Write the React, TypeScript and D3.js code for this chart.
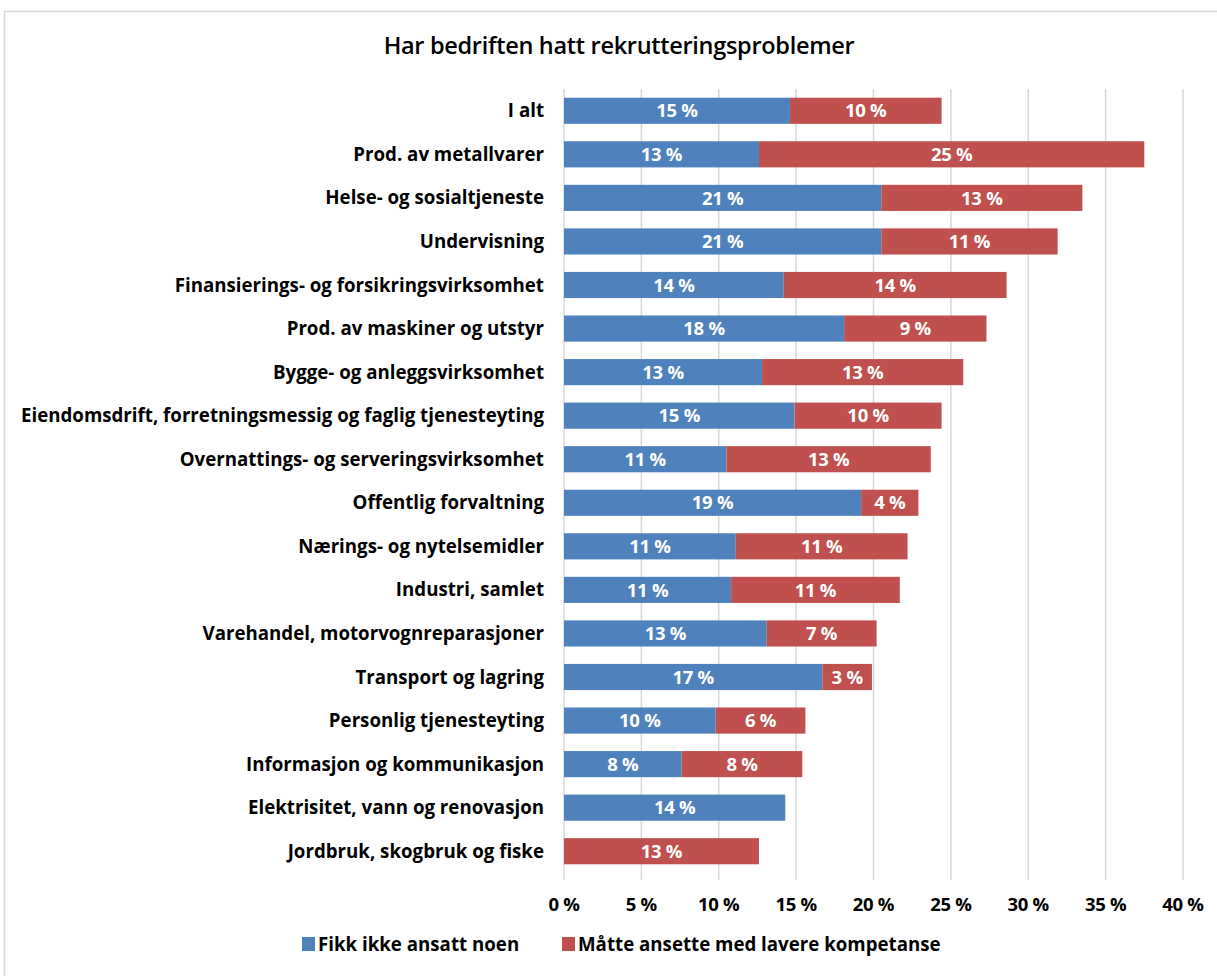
import React from "react";
import * as d3 from "d3";

const categories = [
  "I alt",
  "Prod. av metallvarer",
  "Helse- og sosialtjeneste",
  "Undervisning",
  "Finansierings- og forsikringsvirksomhet",
  "Prod. av maskiner og utstyr",
  "Bygge- og anleggsvirksomhet",
  "Eiendomsdrift, forretningsmessig og faglig tjenesteyting",
  "Overnattings- og serveringsvirksomhet",
  "Offentlig forvaltning",
  "Nærings- og nytelsemidler",
  "Industri, samlet",
  "Varehandel, motorvognreparasjoner",
  "Transport og lagring",
  "Personlig tjenesteyting",
  "Informasjon og kommunikasjon",
  "Elektrisitet, vann og renovasjon",
  "Jordbruk, skogbruk og fiske",
];

const fikkIkke = [14.6, 12.6, 20.5, 20.5, 14.2, 18.1, 12.8, 14.9, 10.5, 19.2, 11.1, 10.8, 13.1, 16.7, 9.8, 7.6, 14.3, 0];
const lavereKomp = [9.8, 24.9, 13.0, 11.4, 14.4, 9.2, 13.0, 9.5, 13.2, 3.7, 11.1, 10.9, 7.1, 3.2, 5.8, 7.8, 0, 12.6];

const ticks = [0, 5, 10, 15, 20, 25, 30, 35, 40];
const seriesNames = ["Fikk ikke ansatt noen", "Måtte ansette med lavere kompetanse"];
const colors = ["#4F81BD", "#C0504D"];

const W = 1217;
const H = 976;
const FONT = "Open Sans, Noto Sans, sans-serif";
const FS = 18.5;
const FSL = 18.7;

export default function App() {
  const x = d3.scaleLinear().domain([0, 40]).range([564, 1183]);
  const y = d3.scaleBand<string>().domain(categories).range([89, 873]).paddingInner(0.4).paddingOuter(0.2);
  const bh = y.bandwidth();

  return (
    <svg width={W} height={H} style={{ position: "absolute", left: 0, top: 0, background: "#fff" }}>
      <rect x={4.5} y={11.5} width={W - 2} height={H} fill="#fff" stroke="#d9d9d9" strokeWidth={1.5} />
      <text x={619} y={54} textAnchor="middle" fontFamily={FONT} fontWeight={600} fontSize={23.5} letterSpacing={-0.3} fill="#000">
        Har bedriften hatt rekrutteringsproblemer
      </text>
      {ticks.map((t) => (
        <line key={t} x1={x(t)} x2={x(t)} y1={89} y2={880} stroke="#d9d9d9" strokeWidth={1.5} />
      ))}
      {categories.map((c, i) => {
        const y0 = y(c)!;
        const a = fikkIkke[i];
        const b = lavereKomp[i];
        return (
          <g key={c}>
            <text x={544} y={y0 + bh / 2} dy="0.35em" textAnchor="end" fontFamily={FONT} fontWeight={700} fontSize={FSL} letterSpacing={0} fill="#000">
              {c}
            </text>
            {a > 0 && (
              <>
                <rect x={x(0)} y={y0} width={x(a) - x(0)} height={bh} fill={colors[0]} />
                <text x={(x(0) + x(a)) / 2} y={y0 + bh / 2} dy="0.36em" textAnchor="middle" fontFamily={FONT} fontWeight={700} fontSize={FS} letterSpacing={-0.3} fill="#fff">
                  {Math.round(a)} %
                </text>
              </>
            )}
            {b > 0 && (
              <>
                <rect x={x(a)} y={y0} width={x(a + b) - x(a)} height={bh} fill={colors[1]} />
                <text x={(x(a) + x(a + b)) / 2} y={y0 + bh / 2} dy="0.36em" textAnchor="middle" fontFamily={FONT} fontWeight={700} fontSize={FS} letterSpacing={-0.3} fill="#fff">
                  {Math.round(b)} %
                </text>
              </>
            )}
          </g>
        );
      })}
      {ticks.map((t) => (
        <text key={t} x={x(t)} y={905} dy="0.35em" textAnchor="middle" fontFamily={FONT} fontWeight={700} fontSize={FS} letterSpacing={-0.3} fill="#000">
          {t} %
        </text>
      ))}
      {seriesNames.map((s, i) => {
        const lx = i === 0 ? 302 : 562;
        return (
          <g key={s}>
            <rect x={lx} y={937} width={13} height={14} fill={colors[i]} />
            <text x={lx + 16} y={944} dy="0.35em" fontFamily={FONT} fontWeight={700} fontSize={FSL} letterSpacing={0} fill="#000">
              {s}
            </text>
          </g>
        );
      })}
    </svg>
  );
}
